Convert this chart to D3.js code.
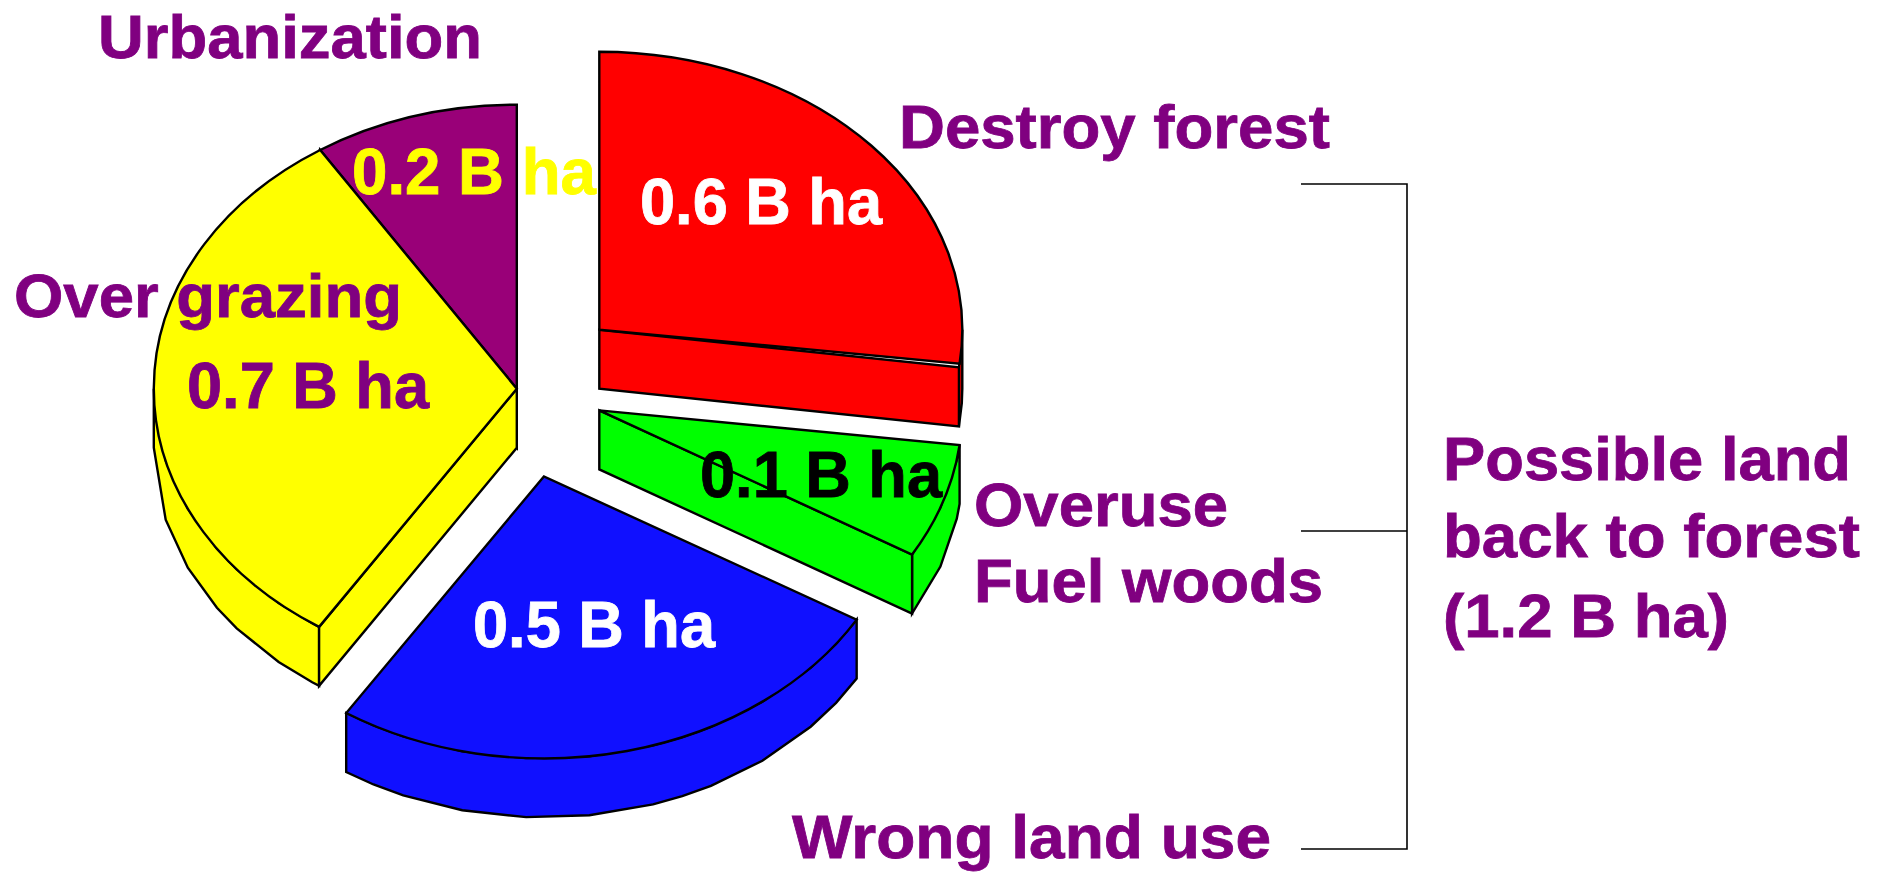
<!DOCTYPE html>
<html>
<head>
<meta charset="utf-8">
<style>
	html, body { margin: 0; padding: 0; background: #fff; overflow: hidden; }
	text { font-family: "Liberation Sans", Arial, sans-serif; font-weight: bold; }
</style>
<script src="https://d3js.org/d3.v7.min.js"></script>
</head>
<body>
<div id="chart"></div>
<script>
// slices clockwise from 12 o'clock, sweep = degrees
var sliceNames = ["Destroy forest", "Overuse Fuel woods", "Wrong land use", "Over grazing", "Urbanization"];
var sliceSweep = [97, 23.5, 92.5, 114.2, 32.8];
var sliceLabels = ["0.6 B ha", "0.1 B ha", "0.5 B ha", "0.7 B ha", "0.2 B ha"];
var sliceColors = ["#ff0000", "#00ff00", "#1010ff", "#ffff00", "#990078"];
var labelColors = ["#ffffff", "#000000", "#ffffff", "#800080", "#ffff00"];

// corners of the rim polygon, old ppt export so they are not regular
var rimFacets = [
	[90, 93, 97.8],
	[97, 100, 110, 120.5],
	[120.5, 126.4, 132.7, 143, 152.6, 157.6, 162.5, 172.8, 182.8, 193, 202.8, 208, 213],
	[213, 214.3, 221, 230.5, 235.7, 245, 255.3, 270],
	[]
];
// the red side wall sits a little below its top face, double line in the original
var cutShift = [0.8, 0, 0, 0, 0];

var width = 1887;
var height = 873;
var rx = 363;
var depth = 59;
var purple = "#800080";

// where each exploded slice sits
var apex = [[599.3, 329.7], [599.3, 410.4], [543.9, 476.5], [516.8, 388.7], [516.8, 388.7]];
var ry = [278, 284, 282, 284, 284];

var svg = d3.select("#chart")
	.append("svg")
	.attr("width", width)
	.attr("height", height);

var pie = d3.pie()
	.sort(null)
	.value(function(d) { return d; });
var arcs = pie(sliceSweep);

var arc = d3.arc()
	.innerRadius(0)
	.outerRadius(rx);

var line = d3.line();

function rimPoint(i, deg, drop) {
	var t = deg * Math.PI / 180;
	return [apex[i][0] + rx * Math.sin(t), apex[i][1] - ry[i] * Math.cos(t) + drop];
}

// back to front so yellow covers the wall of the purple slice
var order = [4, 3, 0, 1, 2];

order.forEach(function(i) {
	var a = arcs[i];
	var g = svg.append("g");
	var startDeg = a.startAngle * 180 / Math.PI;
	var endDeg = a.endAngle * 180 / Math.PI;

	// outer rim
	if (rimFacets[i].length > 0) {
		var top = rimFacets[i].map(function(d) { return rimPoint(i, d, 0); });
		var bottom = rimFacets[i].map(function(d) { return rimPoint(i, d, depth); }).reverse();
		g.append("path")
			.attr("d", line(top.concat(bottom)) + "Z")
			.attr("fill", sliceColors[i])
			.attr("stroke", "#000")
			.attr("stroke-width", 2.4);
	}

	// cut face, only the ones turned towards the viewer
	var cutDeg = null;
	if (Math.sin(a.endAngle) > 0) cutDeg = endDeg + cutShift[i];
	else if (Math.sin(a.startAngle) < -0.01) cutDeg = startDeg;
	if (cutDeg !== null) {
		var c = [apex[i][0], apex[i][1]];
		g.append("path")
			.attr("d", line([c, rimPoint(i, cutDeg, 0), rimPoint(i, cutDeg, depth), [c[0], c[1] + depth]]) + "Z")
			.attr("fill", sliceColors[i])
			.attr("stroke", "#000")
			.attr("stroke-width", 2.4);
	}

	// top face, circle squashed to an ellipse
	g.append("path")
		.attr("d", arc(a))
		.attr("transform", "translate(" + apex[i][0] + "," + apex[i][1] + ") scale(1," + (ry[i] / rx) + ")")
		.attr("fill", sliceColors[i])
		.attr("stroke", "#000")
		.attr("stroke-width", 2.4)
		.attr("vector-effect", "non-scaling-stroke");
});

// bracket on the right
var bracket = [[1301, 184], [1407, 184], [1407, 849], [1301, 849]];
svg.append("path")
	.attr("d", line(bracket))
	.attr("fill", "none")
	.attr("stroke", "#000")
	.attr("stroke-width", 1.6);
svg.append("path")
	.attr("d", line([[1301, 531], [1407, 531]]))
	.attr("fill", "none")
	.attr("stroke", "#000")
	.attr("stroke-width", 1.6);

function addText(str, x, y, len, size, color) {
	svg.append("text")
		.attr("x", x)
		.attr("y", y)
		.attr("font-size", size)
		.attr("fill", color)
		.attr("stroke", color)
		.attr("stroke-width", 0.8)
		.attr("textLength", len)
		.attr("lengthAdjust", "spacingAndGlyphs")
		.text(str);
}

// value labels
var labelPos = [[640, 224], [700, 497], [473, 647], [187, 408], [352, 194]];
sliceLabels.forEach(function(d, i) {
	addText(d, labelPos[i][0], labelPos[i][1], i == 4 ? 244 : 242, 64, labelColors[i]);
});

// names, the fuel wood one is on two lines
addText(sliceNames[4], 98, 58, 384, 62, purple);
addText(sliceNames[0], 899, 148, 431, 62, purple);
addText(sliceNames[3], 14, 317, 388, 62, purple);
addText("Overuse", 974, 526, 254, 62, purple);
addText("Fuel woods", 974, 602, 349, 62, purple);
addText(sliceNames[2], 792, 858, 479, 62, purple);

var noteLines = ["Possible land", "back to forest", "(1.2 B ha)"];
addText(noteLines[0], 1443, 480, 408, 62, purple);
addText(noteLines[1], 1443, 557, 417, 62, purple);
addText(noteLines[2], 1443, 637, 286, 62, purple);
</script>
</body>
</html>
